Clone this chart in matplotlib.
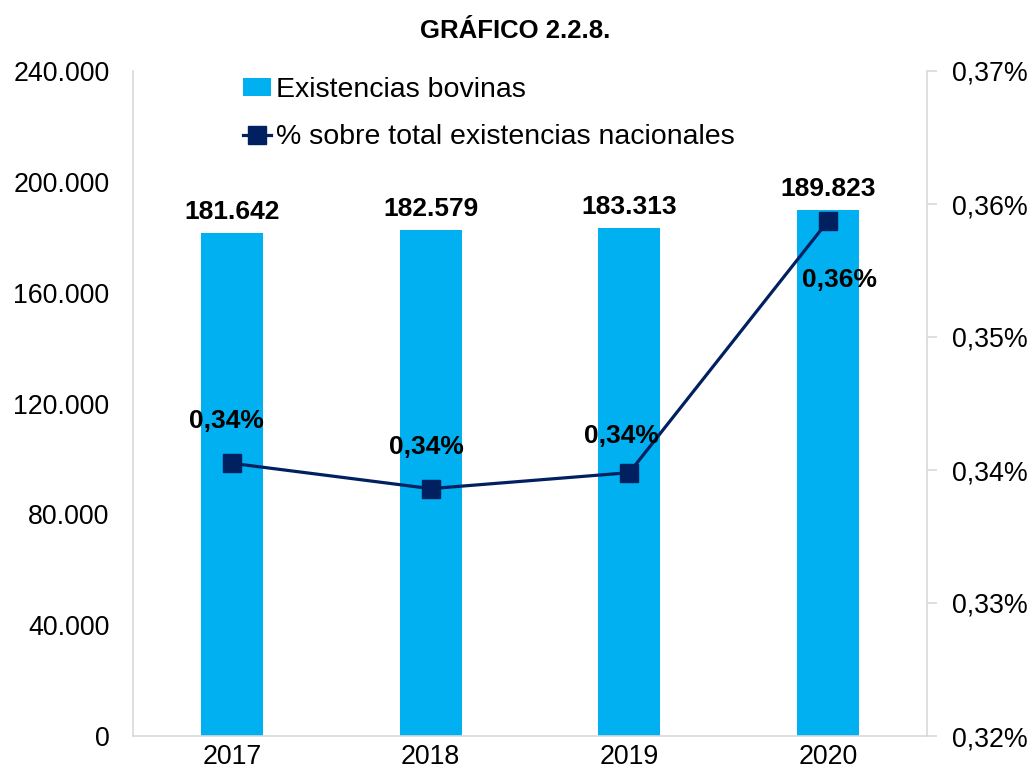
import numpy as np
import matplotlib
matplotlib.use("Agg")
import matplotlib.pyplot as plt
from matplotlib.ticker import FuncFormatter

plt.rcParams['font.family'] = ['Liberation Sans', 'DejaVu Sans']

# Datos
anios = ['2017', '2018', '2019', '2020']
existencias = [181642, 182579, 183313, 189823]
porcentaje = [0.3405, 0.3386, 0.3398, 0.3587]  # % sobre total nacional

# Etiquetas de texto para cada punto
etiquetas_exist = ['181.642', '182.579', '183.313', '189.823']
etiquetas_pct = ['0,34%', '0,34%', '0,34%', '0,36%']

color_barra = '#00B0F0'
color_linea = '#002060'
color_eje = '#D9D9D9'

fig = plt.figure(figsize=(10.31, 7.77), dpi=100)
ax = fig.add_axes([133 / 1031, 41 / 777, 794 / 1031, 665 / 777])
x = np.arange(len(anios))

barras = ax.bar(x, existencias, width=0.31, color=color_barra, zorder=2,
                label='Existencias bovinas')
ax.set_xlim(-0.5, 3.5)
ax.set_ylim(0, 240000)
ax.set_yticks(np.arange(0, 240001, 40000))
ax.yaxis.set_major_formatter(FuncFormatter(lambda v, p: f'{int(v):,}'.replace(',', '.')))
ax.set_xticks(x)
ax.set_xticklabels(anios)
ax.tick_params(axis='y', length=0, labelsize=19.3, pad=17)
ax.tick_params(axis='x', length=0, labelsize=19.3, pad=6)

for s in ['top', 'right']:
    ax.spines[s].set_visible(False)
for s in ['left', 'bottom']:
    ax.spines[s].set_color(color_eje)
    ax.spines[s].set_linewidth(1.2)

# Etiquetas sobre las barras
for xi, val, txt in zip(x, existencias, etiquetas_exist):
    ax.annotate(txt, (xi, val), xytext=(0, 21), textcoords='offset pixels',
                ha='center', va='center', fontsize=19, fontweight='bold')

# Eje secundario con el porcentaje
ax2 = ax.twinx()
linea, = ax2.plot(x, porcentaje, color=color_linea, lw=2.3, marker='s',
                  markersize=13, markerfacecolor=color_linea,
                  markeredgecolor=color_linea, zorder=3,
                  label='% sobre total existencias nacionales')
ax2.set_ylim(0.32, 0.37)
ax2.set_yticks(np.arange(0.32, 0.3701, 0.01))
ax2.yaxis.set_major_formatter(FuncFormatter(lambda v, p: f'{v:.2f}%'.replace('.', ',')))
ax2.tick_params(axis='y', length=7, color=color_eje, width=1.2, labelsize=19.3, pad=11)
for s in ['top', 'left', 'bottom']:
    ax2.spines[s].set_visible(False)
ax2.spines['right'].set_color(color_eje)
ax2.spines['right'].set_linewidth(1.2)

desplaz = [(-6, 42), (-4, 42), (-8, 37), (12, -59)]
for xi, val, txt, d in zip(x, porcentaje, etiquetas_pct, desplaz):
    ax2.annotate(txt, (xi, val), xytext=d, textcoords='offset pixels',
                 ha='center', va='center', fontsize=19, fontweight='bold')

fig.text(0.5, 1 - 31 / 777, 'GRÁFICO 2.2.8.', ha='center', va='center',
         fontsize=18.5, fontweight='bold')

fig.legend([barras, linea], ['Existencias bovinas', '% sobre total existencias nacionales'],
           loc='upper left', bbox_to_anchor=(243 / 1031, 1 - 77 / 777),
           frameon=False, fontsize=20.5, handlelength=1.0, handletextpad=0.15,
           labelspacing=0.75, borderpad=0, borderaxespad=0, handleheight=0.6)

fig.savefig('out.png', dpi=100)
